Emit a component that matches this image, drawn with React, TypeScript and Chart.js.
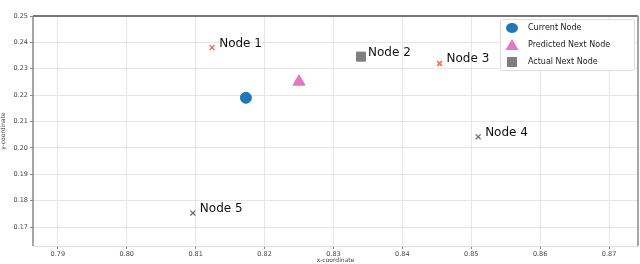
import React, { useEffect, useRef } from "react";
import { Chart, registerables } from "chart.js";

Chart.register(...registerables);

// ---- data ----
const currentNode = { x: 0.8173, y: 0.219 };
const predictedNode = { x: 0.825, y: 0.2251 };
const nodeNames = ["Node 1", "Node 2", "Node 3", "Node 4", "Node 5"];
const nodeX = [0.8124, 0.834, 0.8454, 0.851, 0.8096];
const nodeY = [0.238, 0.2346, 0.232, 0.2042, 0.1753];
const nodeColors = ["#f05a28", "#7f7f7f", "#f05a28", "#666666", "#666666"];
const actualIndex = 1;
const xTicks = [0.79, 0.8, 0.81, 0.82, 0.83, 0.84, 0.85, 0.86, 0.87];
const yTicks = [0.17, 0.18, 0.19, 0.2, 0.21, 0.22, 0.23, 0.24, 0.25];
const xRange = [0.7864, 0.8742];
const yRange = [0.1628, 0.25];
const legendLabels = ["Current Node", "Predicted Next Node", "Actual Next Node"];

const otherIdx = nodeNames.map((_, i) => i).filter((i) => i !== actualIndex);

export default function App() {
  const ref = useRef<HTMLCanvasElement>(null);
  useEffect(() => {
    document.body.style.margin = "0";
    const canvas = ref.current!;
    const labelPlugin = {
      id: "nodeLabels",
      afterDatasetsDraw(chart: any) {
        const ctx = chart.ctx;
        const xs = chart.scales.x;
        const ys = chart.scales.y;
        ctx.save();
        ctx.font = "12px 'DejaVu Sans'";
        ctx.fillStyle = "#111";
        ctx.textBaseline = "alphabetic";
        nodeNames.forEach((n, i) => {
          const px = xs.getPixelForValue(nodeX[i]);
          const py = ys.getPixelForValue(nodeY[i]);
          ctx.fillText(n, px + 7, py - 1);
        });
        ctx.restore();
      },
      afterDraw(chart: any) {
        const ctx = chart.ctx;
        const a = chart.chartArea;
        ctx.save();
        // frame
        ctx.strokeStyle = "#dddddd";
        ctx.lineWidth = 1;
        ctx.beginPath();
        ctx.moveTo(a.left, a.bottom + 0.5);
        ctx.lineTo(a.right, a.bottom + 0.5);
        ctx.stroke();
        ctx.strokeStyle = "#777";
        ctx.lineWidth = 2;
        ctx.beginPath();
        ctx.moveTo(a.left, a.top);
        ctx.lineTo(a.right, a.top);
        ctx.stroke();
        ctx.lineWidth = 1.5;
        ctx.strokeStyle = "#888";
        ctx.beginPath();
        ctx.moveTo(a.left, a.top);
        ctx.lineTo(a.left, a.bottom);
        ctx.moveTo(a.right, a.top);
        ctx.lineTo(a.right, a.bottom);
        ctx.stroke();
        // legend
        const lx = 500, ly = 19, lw = 134, lh = 51;
        ctx.fillStyle = "rgba(255,255,255,0.9)";
        ctx.strokeStyle = "#dcdcdc";
        ctx.lineWidth = 1;
        ctx.beginPath();
        (ctx as any).roundRect(lx + 0.5, ly + 0.5, lw, lh, 2);
        ctx.fill();
        ctx.stroke();
        ctx.font = "8px 'DejaVu Sans'";
        ctx.textBaseline = "middle";
        for (let i = 0; i < 3; i++) {
          const ds = chart.data.datasets[i];
          const cy = ly + 9 + i * 17;
          const cx = lx + 12;
          ctx.fillStyle = ds.backgroundColor;
          if (ds.pointStyle === "circle") {
            ctx.beginPath();
            ctx.ellipse(cx, cy, 6, 5, 0, 0, Math.PI * 2);
            ctx.fill();
          } else if (ds.pointStyle === "triangle") {
            ctx.beginPath();
            ctx.moveTo(cx, cy - 6);
            ctx.lineTo(cx + 6.5, cy + 5);
            ctx.lineTo(cx - 6.5, cy + 5);
            ctx.closePath();
            ctx.fill();
          } else {
            ctx.fillRect(cx - 5, cy - 5, 10, 10);
          }
          ctx.fillStyle = "#222";
          ctx.fillText(ds.label, lx + 28, cy);
        }
        ctx.restore();
      },
    };

    const chart = new Chart(canvas, {
      type: "scatter",
      data: {
        datasets: [
          {
            label: legendLabels[0],
            data: [currentNode],
            pointStyle: "circle",
            backgroundColor: "#1f77b4",
            borderColor: "#1f77b4",
            pointRadius: 5.5,
          },
          {
            label: legendLabels[1],
            data: [predictedNode],
            pointStyle: "triangle",
            backgroundColor: "#e377c2",
            borderColor: "#e377c2",
            pointRadius: 7,
          },
          {
            label: legendLabels[2],
            data: [{ x: nodeX[actualIndex], y: nodeY[actualIndex] }],
            pointStyle: "rect",
            backgroundColor: "#7f7f7f",
            borderColor: "#7f7f7f",
            pointRadius: 6.4,
          },
          {
            label: "Nodes",
            data: otherIdx.map((i) => ({ x: nodeX[i], y: nodeY[i] })),
            pointStyle: "crossRot",
            backgroundColor: otherIdx.map((i) => nodeColors[i]),
            borderColor: otherIdx.map((i) => nodeColors[i]),
            borderWidth: 1.2,
            pointRadius: 3.5,
          },
        ] as any,
      },
      options: {
        animation: false,
        responsive: false,
        layout: { autoPadding: false, padding: { top: 16, right: 2, left: 0, bottom: 0 } },
        plugins: { legend: { display: false }, tooltip: { enabled: false } },
        scales: {
          x: {
            type: "linear",
            min: xRange[0],
            max: xRange[1],
            afterBuildTicks: (s: any) => {
              s.ticks = xTicks.map((v) => ({ value: v }));
            },
            afterFit: (s: any) => {
              s.height = 18;
              s.paddingLeft = 0;
              s.paddingRight = 0;
            },
            border: { display: false },
            grid: { color: "#e6e6e6", tickLength: 3, tickColor: "#888" },
            ticks: {
              font: { family: "'DejaVu Sans'", size: 6.5 },
              color: "#444",
              padding: 1,
              maxRotation: 0,
              callback: (v: any) => Number(v).toFixed(2),
            },
            title: {
              display: true,
              text: "x-coordinate",
              font: { family: "'DejaVu Sans'", size: 6 },
              color: "#444",
              padding: { top: 0, bottom: 0 },
            },
          },
          y: {
            type: "linear",
            min: yRange[0],
            max: yRange[1],
            afterBuildTicks: (s: any) => {
              s.ticks = yTicks.map((v) => ({ value: v }));
            },
            afterFit: (s: any) => {
              s.width = 33;
              s.paddingTop = 0;
              s.paddingBottom = 0;
            },
            border: { display: false },
            grid: { color: "#e6e6e6", tickLength: 3, tickColor: "#888" },
            ticks: {
              font: { family: "'DejaVu Sans'", size: 6.5 },
              color: "#444",
              padding: 2,
              callback: (v: any) => Number(v).toFixed(2),
            },
            title: {
              display: true,
              text: "y-coordinate",
              font: { family: "'DejaVu Sans'", size: 6 },
              color: "#444",
              padding: { top: 0, bottom: 0 },
            },
          },
        },
      },
      plugins: [labelPlugin],
    });
    return () => chart.destroy();
  }, []);
  return (
    <div style={{ width: 640, height: 264, background: "#fff" }}>
      <canvas ref={ref} width={640} height={264} style={{ display: "block" }} />
    </div>
  );
}
